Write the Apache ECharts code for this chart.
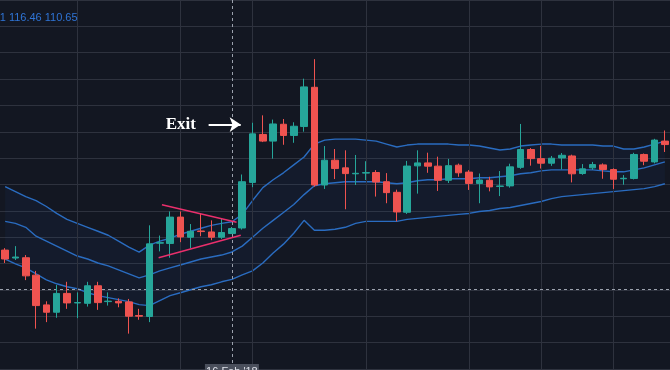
<!DOCTYPE html>
<html><head><meta charset="utf-8">
<script src="https://cdn.jsdelivr.net/npm/echarts@6/dist/echarts.min.js"></script>
<style>html,body{margin:0;padding:0;background:#131722;}#c{width:670px;height:370px;}</style>
</head><body><div id="c"></div>
<script>
// ---- data ----
const openP = [113.6,112.8,112.83,111.07,108.07,107.33,109.23,108.27,108.23,110.0,
108.4,108.43,108.37,107.0,106.9,114.3,114.27,116.93,114.9,115.53,
115.43,114.9,115.27,115.83,120.43,125.27,124.6,126.3,125.17,126.07,
130.03,120.17,122.67,121.9,121.3,121.37,121.43,120.5,119.43,117.42,
122.1,122.4,122.07,120.65,122.17,121.47,120.33,120.65,120.03,120.08,
121.95,123.75,122.83,122.37,122.9,123.1,121.33,121.9,122.2,121.73,
120.8,120.83,123.25,122.5,124.6];
const closeP = [112.7,112.9,111.0,108.0,107.33,109.23,108.27,108.3,110.0,108.3,
108.45,108.27,106.93,106.93,114.23,114.35,116.93,114.93,115.5,115.47,
114.9,115.37,115.77,120.5,125.33,124.6,126.33,125.17,126.1,130.07,
120.17,122.67,121.83,121.32,121.35,121.42,120.47,119.4,117.45,122.08,
122.4,122.07,120.65,122.12,121.4,120.33,120.67,119.98,120.07,122.0,
123.75,122.83,122.37,122.87,123.17,121.3,121.8,122.23,121.73,120.75,
120.85,123.25,122.57,124.7,124.25];
const highP = [113.8,114.0,113.1,111.5,108.43,110.07,110.4,109.33,110.4,110.4,
109.33,108.73,108.67,107.67,116.1,115.07,117.5,117.5,116.23,117.33,
116.6,116.77,115.93,121.23,126.45,127.2,126.77,126.83,126.5,130.9,
132.87,124.1,123.8,123.67,123.2,122.57,121.67,121.37,119.7,122.6,
123.67,123.43,123.03,122.8,122.33,121.67,121.33,121.0,121.58,122.32,
126.33,123.9,124.12,123.1,123.4,123.23,122.28,122.5,122.35,121.85,
121.17,123.42,123.35,124.83,125.67];
const lowP = [112.3,112.6,110.57,105.67,106.33,106.77,107.67,106.73,107.9,107.57,
108.0,107.83,105.17,106.57,106.33,113.47,112.83,114.4,113.77,115.0,
114.6,114.73,115.23,115.67,119.95,124.5,122.83,124.23,124.43,125.55,
120.0,119.77,120.77,117.72,120.17,120.67,119.0,118.33,116.5,117.25,
119.3,121.4,119.57,120.37,121.0,119.67,118.33,119.53,119.05,119.9,
121.8,122.12,121.83,122.1,121.75,120.43,121.2,121.7,120.8,119.77,
120.2,120.73,122.17,122.35,123.5];
const bbUpper = [120.0,119.5,119.0,118.6,118.0,117.3,116.7,116.3,115.9,115.5,
115.1,114.5,113.9,113.4,114.1,114.5,114.8,115.2,115.5,115.8,
116.1,116.3,116.46,117.2,118.6,119.9,120.7,121.4,122.2,123.0,
124.3,124.7,124.8,124.8,124.8,124.7,124.6,124.3,124.0,124.2,
124.3,124.3,124.3,124.3,124.2,124.2,124.1,123.9,123.7,123.8,
124.1,124.2,124.3,124.3,124.2,124.2,124.2,124.2,124.1,124.1,
123.8,123.8,124.0,124.3,124.6];
const bbBasis = [116.5,116.3,115.9,115.0,114.5,114.0,113.5,113.0,112.7,112.3,
112.0,111.6,111.2,110.8,111.1,111.5,111.8,112.1,112.4,112.7,
112.9,113.1,113.41,114.0,114.9,115.8,116.6,117.4,118.2,119.2,
120.1,120.3,120.4,120.5,120.5,120.5,120.5,120.4,120.3,120.4,
120.6,120.7,120.7,120.8,120.8,120.8,120.9,120.9,121.0,121.1,
121.3,121.4,121.6,121.7,121.7,121.7,121.7,121.7,121.6,121.5,
121.5,121.7,121.9,122.2,122.5];
const bbLower = [112.7,112.2,111.8,111.2,110.6,110.2,109.9,109.7,109.3,109.0,
108.8,108.6,108.4,108.1,108.0,108.5,109.0,109.3,109.6,109.9,
110.1,110.4,110.65,111.1,111.5,112.3,113.3,114.2,115.3,116.6,
115.6,115.6,115.7,115.9,116.3,116.5,116.5,116.5,116.5,116.7,
116.8,116.9,117.0,117.1,117.2,117.3,117.5,117.6,117.8,117.9,
118.1,118.3,118.5,118.8,119.0,119.1,119.2,119.3,119.4,119.5,
119.6,119.7,119.8,120.0,120.3];
const categories = openP.map((_, i) => 'D' + (i + 1));
const vGridIdx = [7, 17, 24, 35, 45, 52, 59];
const crossIdx = 22;
const crossPrice = 109.6;
const triUpper = [[15.21, 118.17], [22.45, 116.4]];
const triLower = [[14.89, 112.83], [22.86, 115.1]];
const exitArrow = [[19.74, 126.27], [22.85, 126.27]];
const exitLabel = [17.04, 126.3];
const legendText = '113.41 116.46 110.65';
const crossDateLabel = "16 Feb '18";

// ---- chart ----
const up = '#26a69a', down = '#ef5350', gridC = '#2e323e', bandC = '#2a6cc0';
const candleData = openP.map((o, i) => [o, closeP[i], lowP[i], highP[i]]);
const bandDiff = bbUpper.map((u, i) => +(u - bbLower[i]).toFixed(2));
const chart = echarts.init(document.getElementById('c'));
const bandLine = (name, data) => ({
  name, type: 'line', data, symbol: 'none', silent: true, z: 2,
  lineStyle: { color: bandC, width: 1.4 }
});
chart.setOption({
  backgroundColor: '#131722',
  animation: false,
  grid: { left: -4.8, width: 679.25, top: -3.4, bottom: 1 },
  xAxis: [
    { type: 'category', data: categories, show: false, boundaryGap: true },
    { type: 'value', min: -0.5, max: 64.5, show: false }
  ],
  yAxis: [
    { type: 'value', min: 101.6, max: 138.84, show: false, scale: true },
    { type: 'value', min: 0, max: 14, interval: 1,
      axisLine: { show: false }, axisTick: { show: false }, axisLabel: { show: false },
      splitLine: { show: true, lineStyle: { color: gridC, width: 1 } } }
  ],
  series: [
    { name: 'base', type: 'line', data: bbLower, stack: 'bb', symbol: 'none', silent: true, z: 1,
      lineStyle: { opacity: 0 },
      markLine: { symbol: 'none', silent: true, label: { show: false },
        lineStyle: { color: gridC, type: 'solid', width: 1 },
        data: vGridIdx.map(i => ({ xAxis: i })) } },
    { name: 'fill', type: 'line', data: bandDiff, stack: 'bb', symbol: 'none', silent: true, z: 1,
      lineStyle: { opacity: 0 }, areaStyle: { color: 'rgba(41,110,230,0.07)' } },
    bandLine('upper', bbUpper),
    bandLine('basis', bbBasis),
    bandLine('lower', bbLower),
    { name: 'price', type: 'candlestick', data: candleData, barWidth: 7, z: 5,
      itemStyle: { color: up, color0: down, borderColor: up, borderColor0: down, borderWidth: 1 } },
    { name: 'triU', type: 'line', xAxisIndex: 1, data: triUpper, symbol: 'none', z: 6,
      lineStyle: { color: '#ea2f6c', width: 1.5 } },
    { name: 'triL', type: 'line', xAxisIndex: 1, data: triLower, symbol: 'none', z: 6,
      lineStyle: { color: '#ea2f6c', width: 1.5 } },
    { name: 'cross', type: 'line', xAxisIndex: 1, data: [], z: 8,
      markLine: { symbol: 'none', silent: true, label: { show: false },
        lineStyle: { color: '#9ba1ad', type: [3, 3], width: 1 },
        data: [{ xAxis: crossIdx }, { yAxis: crossPrice }] } },
    { name: 'arrow', type: 'line', xAxisIndex: 1, data: [], z: 8,
      markLine: { symbol: ['none', 'arrow'], symbolSize: 11, silent: true, label: { show: false },
        lineStyle: { color: '#ffffff', type: 'solid', width: 2 },
        itemStyle: { color: '#ffffff' },
        data: [[{ coord: exitArrow[0] }, { coord: exitArrow[1] }]] } }
  ]
});
const cx = chart.convertToPixel({ xAxisIndex: 0 }, crossIdx);
const exitPt = chart.convertToPixel({ xAxisIndex: 1, yAxisIndex: 0 }, exitLabel);
chart.setOption({
  graphic: [
    { type: 'text', x: -27, y: 12, z: 20,
      style: { text: legendText, fill: '#2f74d6', font: '11px "Liberation Sans", Arial, sans-serif' } },
    { type: 'text', x: exitPt[0], y: exitPt[1], z: 20,
      style: { text: 'Exit', fill: '#ffffff', align: 'center', verticalAlign: 'middle',
        font: 'bold 17px "Liberation Serif", "DejaVu Serif", serif' } },
    { type: 'rect', x: cx - 27, y: 364, z: 20, shape: { width: 54, height: 12 },
      style: { fill: '#4a4f5c' } },
    { type: 'text', x: cx, y: 366, z: 21,
      style: { text: crossDateLabel, fill: '#e0e3eb', align: 'center', verticalAlign: 'top',
        font: '11px "Liberation Sans", Arial, sans-serif' } }
  ]
});
</script>
</body></html>
